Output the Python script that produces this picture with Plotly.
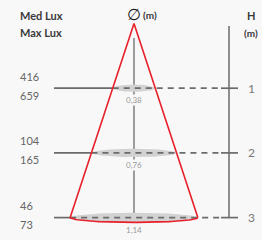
import numpy as np
import plotly.graph_objects as go

# ---- data ----
heights = [1, 2, 3]                 # H (m)
diameters = [0.38, 0.76, 1.14]      # Ø (m)
med_lux = [416, 104, 46]
max_lux = [659, 165, 73]
diam_labels = ["0,38", "0,76", "1,14"]
height_labels = ["1", "2", "3"]

# ---- style / layout constants ----
BG = "#f8f8f8"
RED = "#e8202a"
GREY = "#6b6b6b"
ELL = "#d2d2d2"
FONT = "Lato"
W, HT = 262, 240
CX = 134          # px position of cone axis
PX_PER_M = 112
PX_PER_H = 64.7
APEX_PX = 23.5


def gx(px):
    return (px - CX) / PX_PER_M


def gy(px):
    return (px - APEX_PX) / PX_PER_H


x_range = [gx(0), gx(W)]
y_range = [gy(HT), gy(0)]  # reversed

fig = go.Figure()

h_last = heights[-1]
d_last = diameters[-1]
ry = [(3 + 0.6 * h) / PX_PER_H for h in heights]

# centre vertical line
fig.add_trace(go.Scatter(x=[0, 0], y=[gy(38), h_last + ry[-1]], mode="lines",
                         line=dict(color=GREY, width=1.3), hoverinfo="skip"))
# right H axis line
fig.add_trace(go.Scatter(x=[gx(229), gx(229)], y=[gy(26), h_last], mode="lines",
                         line=dict(color=GREY, width=1.5), hoverinfo="skip"))

# light ellipses (light spot footprint)
t = np.linspace(0, 2 * np.pi, 121)
for h, d, r in zip(heights, diameters, ry):
    fig.add_trace(go.Scatter(x=(d / 2) * np.cos(t), y=h + r * np.sin(t), mode="lines",
                             fill="toself", fillcolor=ELL, line=dict(width=0),
                             hoverinfo="skip"))

# level lines
sx, sy, dx, dy = [], [], [], []
for h, d in zip(heights, diameters):
    sx += [gx(54), -d / 2, None, gx(221), gx(238), None]
    sy += [h, h, None, h, h, None]
    dx += [-d / 2, gx(221), None]
    dy += [h, h, None]
fig.add_trace(go.Scatter(x=sx, y=sy, mode="lines",
                         line=dict(color=GREY, width=1.7), hoverinfo="skip"))
fig.add_trace(go.Scatter(x=dx, y=dy, mode="lines",
                         line=dict(color=GREY, width=1.7, dash="6px,5px"), hoverinfo="skip"))

# red cone
fig.add_trace(go.Scatter(x=[-d_last / 2, 0, d_last / 2], y=[h_last, 0, h_last], mode="lines",
                         line=dict(color=RED, width=1.6), hoverinfo="skip"))
ta = np.linspace(0, np.pi, 61)
fig.add_trace(go.Scatter(x=(d_last / 2) * np.cos(ta), y=h_last + ry[-1] * np.sin(ta),
                         mode="lines", line=dict(color=RED, width=1.6), hoverinfo="skip"))

ann = []
# header texts
ann.append(dict(text="<b>Med Lux</b>", x=18 / W, y=1 - 16 / HT, xref="paper", yref="paper",
                xanchor="left", yanchor="middle", showarrow=False,
                font=dict(family=FONT, size=11, color="#3a3a3a")))
ann.append(dict(text="<b>Max Lux</b>", x=18 / W, y=1 - 33 / HT, xref="paper", yref="paper",
                xanchor="left", yanchor="middle", showarrow=False,
                font=dict(family=FONT, size=11, color="#3a3a3a")))
ann.append(dict(text="∅", x=0, y=1 - 14 / HT, xref="x", yref="paper",
                xanchor="center", yanchor="middle", showarrow=False,
                font=dict(family="DejaVu Sans", size=16, color="#111")))
ann.append(dict(text="<b>(m)</b>", x=gx(141), y=1 - 15 / HT, xref="x", yref="paper",
                xanchor="left", yanchor="middle", showarrow=False,
                font=dict(family=FONT, size=10, color="#3a3a3a")))
ann.append(dict(text="<b>H</b>", x=251 / W, y=1 - 16 / HT, xref="paper", yref="paper",
                xanchor="center", yanchor="middle", showarrow=False,
                font=dict(family=FONT, size=11, color="#3a3a3a")))
ann.append(dict(text="<b>(m)</b>", x=251 / W, y=1 - 33 / HT, xref="paper", yref="paper",
                xanchor="center", yanchor="middle", showarrow=False,
                font=dict(family=FONT, size=10, color="#3a3a3a")))

for h, d, lbl, hl, mn, mx in zip(heights, diameters, diam_labels, height_labels, med_lux, max_lux):
    ann.append(dict(text=str(mn), x=18 / W, y=h, xref="paper", yref="y", yshift=12,
                    xanchor="left", yanchor="middle", showarrow=False,
                    font=dict(family=FONT, size=11, color="#666")))
    ann.append(dict(text=str(mx), x=18 / W, y=h, xref="paper", yref="y", yshift=-7,
                    xanchor="left", yanchor="middle", showarrow=False,
                    font=dict(family=FONT, size=11, color="#666")))
    ann.append(dict(text=lbl, x=0, y=h, xref="x", yref="y", yshift=-12,
                    xanchor="center", yanchor="middle", showarrow=False, bgcolor=BG,
                    borderpad=0, font=dict(family=FONT, size=8, color="#999")))
    ann.append(dict(text=hl, x=251 / W, y=h, xref="paper", yref="y",
                    xanchor="center", yanchor="middle", showarrow=False,
                    font=dict(family=FONT, size=12, color="#777")))

fig.update_layout(
    width=W, height=HT, margin=dict(l=0, r=0, t=0, b=0),
    paper_bgcolor=BG, plot_bgcolor=BG, showlegend=False,
    xaxis=dict(range=x_range, visible=False, fixedrange=True),
    yaxis=dict(range=y_range, visible=False, fixedrange=True),
    annotations=ann,
)

fig.write_html(
    "out.html",
    config={"displayModeBar": False},
    post_script="document.body.style.margin='0';document.body.style.overflow='hidden';"
                "document.body.style.background='" + BG + "';",
)
